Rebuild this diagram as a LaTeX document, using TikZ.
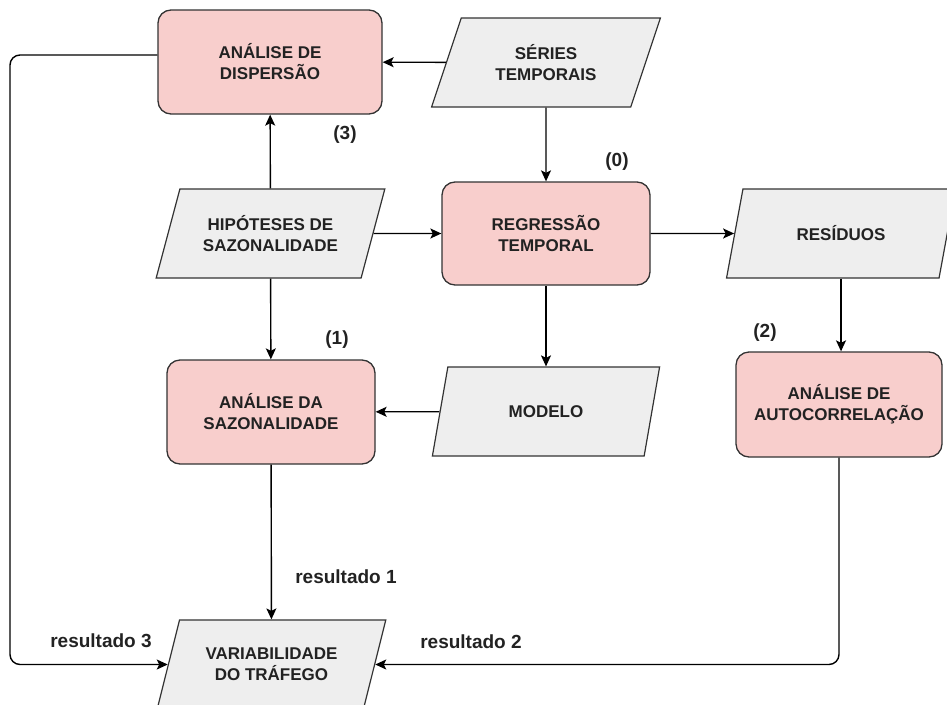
\documentclass[tikz,border=0pt]{standalone}
\usepackage{fontspec}
\setmainfont{Liberation Sans}
\usetikzlibrary{shapes.geometric,arrows.meta}
\definecolor{procfill}{HTML}{F8CECC}
\definecolor{datafill}{HTML}{EEEEEE}
\definecolor{edgeline}{HTML}{333333}
\definecolor{inktext}{HTML}{222222}

\begin{document}
\begin{tikzpicture}[x=1pt,y=-1pt,
  boxtext/.style={font=\fontsize{17}{21}\selectfont\bfseries, text=inktext, align=center},
  proc/.style={boxtext, rectangle, rounded corners=13pt, draw=edgeline,
    line width=1.3pt, fill=procfill, inner sep=0pt},
  data/.style={boxtext, trapezium, trapezium left angle=64, trapezium right angle=116,
    trapezium stretches=true, draw=edgeline, line width=1.2pt, fill=datafill,
    inner sep=0pt, minimum height=89pt, minimum width=229pt},
  conn/.style={draw=black, line width=1.4pt, rounded corners=10pt,
    -{Stealth[length=11pt,width=10pt,inset=2.5pt]}},
  note/.style={font=\fontsize{19}{22}\selectfont\bfseries, text=inktext}
]
\useasboundingbox (0,0) rectangle (947,704);
\clip (0,0) rectangle (947,704);

% process steps
\node[proc, minimum width=224pt, minimum height=104pt] (disp) at (270,62) {ANÁLISE DE\\DISPERSÃO};
\node[proc, minimum width=208pt, minimum height=103pt] (reg) at (546,233.5) {REGRESSÃO\\TEMPORAL};
\node[proc, minimum width=208pt, minimum height=104pt] (saz) at (271,412) {ANÁLISE DA\\SAZONALIDADE};
\node[proc, minimum width=206pt, minimum height=105pt] (auto) at (839,404.5) {ANÁLISE DE\\AUTOCORRELAÇÃO};

% data items
\node[data] (ser) at (546,62.5) {SÉRIES\\TEMPORAIS};
\node[data] (hip) at (270.5,233.5) {HIPÓTESES DE\\SAZONALIDADE};
\node[data] (res) at (841,233.5) {RESÍDUOS};
\node[data] (mod) at (546,411.5) {MODELO};
\node[data] (var) at (271.5,664.5) {VARIABILIDADE\\DO TRÁFEGO};

% step numbers and result labels
\node[note] (n3) at (345,135) {(3)};
\node[note] (n0) at (617,162) {(0)};
\node[note] (n1) at (337,340) {(1)};
\node[note] (n2) at (765,333) {(2)};
\node[note] (r1) at (346,577) {resultado 1};
\node[note] (r3) at (101,641) {resultado 3};
\node[note] (r2) at (471,642) {resultado 2};

% corner points of the long return paths
\coordinate (loopL) at (10,664.5);
\coordinate (loopR) at (839,664.5);

% connectors
\draw[conn] (ser) -- (disp);
\draw[conn] (ser) -- (reg);
\draw[conn] (hip) -- (disp);
\draw[conn] (hip) -- (reg);
\draw[conn] (hip) -- (saz);
\draw[conn] (reg) -- (res);
\draw[conn] (reg) -- (mod);
\draw[conn] (mod) -- (saz);
\draw[conn] (res.south) -- (auto.north -| res.south);
\draw[conn] (saz) -- (var);
\draw[conn] ([yshift=7pt]disp.west) -| (loopL) -- (var);
\draw[conn] (auto.south) -- (loopR) -- (var);
\end{tikzpicture}
\end{document}
